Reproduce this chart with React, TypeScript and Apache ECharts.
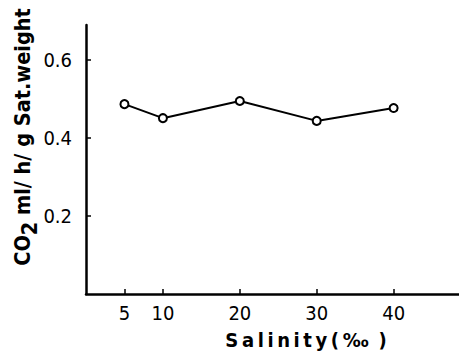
import React, { useEffect, useRef } from "react";
import * as echarts from "echarts";

const salinity = [5, 10, 20, 30, 40];
const co2 = [0.487, 0.451, 0.495, 0.444, 0.477];
const xTicks = [5, 10, 20, 30, 40];
const yTicks = [0.2, 0.4, 0.6];

const FONT = "'DejaVu Sans Condensed', 'DejaVu Sans', sans-serif";
const TS = "\u2009";

export default function App() {
  const ref = useRef<HTMLDivElement>(null);
  useEffect(() => {
    if (!ref.current) return;
    const chart = echarts.init(ref.current, null, { renderer: "svg" });
    chart.setOption({
      animation: false,
      backgroundColor: "#ffffff",
      grid: { left: 86, top: 25, right: 0, bottom: 61 },
      xAxis: {
        type: "value",
        min: 0,
        max: 48.5,
        axisLine: { show: true, lineStyle: { color: "#000", width: 2.5 } },
        axisTick: { show: true, inside: true, length: 5, customValues: xTicks, lineStyle: { color: "#000", width: 1.5 } },
        axisLabel: { customValues: xTicks, margin: 9, color: "#000", fontSize: 20, fontFamily: FONT },
        splitLine: { show: false },
      },
      yAxis: {
        type: "value",
        min: 0,
        max: 0.69,
        axisLine: { show: true, lineStyle: { color: "#000", width: 2.5 } },
        axisTick: { show: true, inside: true, length: 5, customValues: yTicks, lineStyle: { color: "#000", width: 1.5 } },
        axisLabel: { customValues: yTicks, margin: 14, color: "#000", fontSize: 20, fontFamily: FONT, formatter: (v: number) => v.toFixed(1) },
        splitLine: { show: false },
      },
      graphic: [
        {
          type: "text",
          x: 22,
          y: 137,
          rotation: Math.PI / 2,
          style: {
            text: "{a|CO}{s|2}{a| ml/ h/ g Sat.weight}",
            align: "center",
            verticalAlign: "middle",
            rich: {
              a: { fontSize: 21.5, fontWeight: "bold", fontFamily: FONT, fill: "#000" },
              s: { fontSize: 21.5, fontWeight: "bold", fontFamily: FONT, fill: "#000", padding: [14, 0, 0, 0] },
            },
          },
        },
        {
          type: "text",
          x: 306,
          y: 340,
          style: {
            text: ["S", "a", "l", "i", "n", "i", "t", "y", "(", "‰", " )"].join(TS),
            align: "center",
            verticalAlign: "middle",
            fontSize: 20,
            fontWeight: "bold",
            fontFamily: FONT,
            fill: "#000",
          },
        },
      ],
      series: [
        {
          type: "line",
          data: salinity.map((s, i) => [s, co2[i]]),
          symbol: "emptyCircle",
          symbolSize: 8,
          lineStyle: { color: "#000", width: 2 },
          itemStyle: { color: "#000", borderColor: "#000", borderWidth: 1.8 },
        },
      ],
    });
    return () => chart.dispose();
  }, []);
  return <div ref={ref} style={{ width: 459, height: 355, position: "absolute", left: 0, top: 0 }} />;
}
